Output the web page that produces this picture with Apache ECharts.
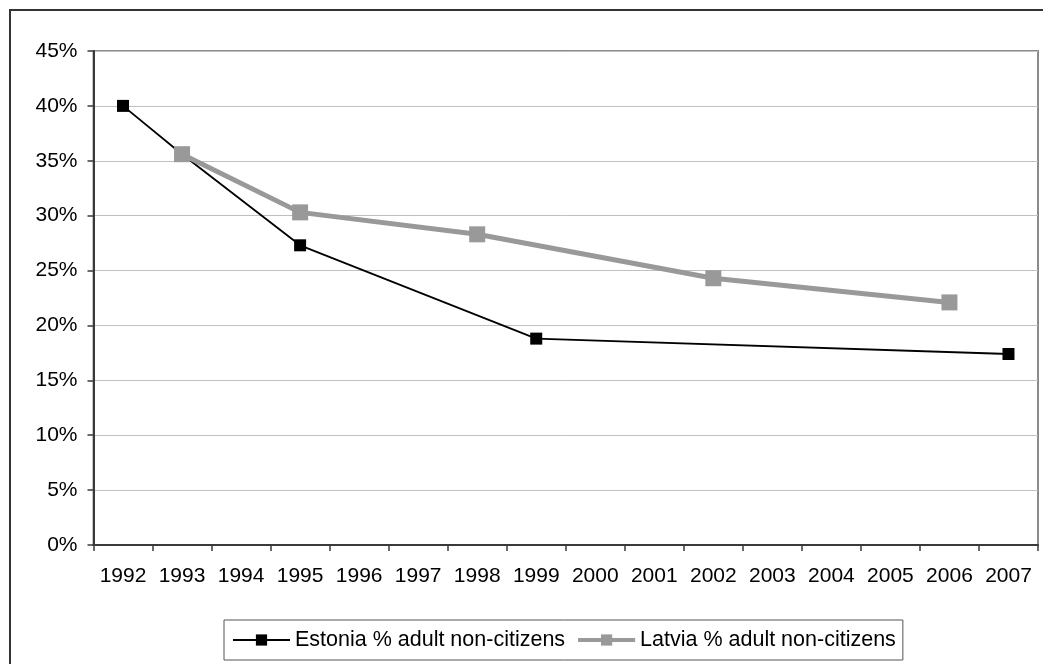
<!DOCTYPE html>
<html>
<head>
<meta charset="utf-8">
<script src="https://cdn.jsdelivr.net/npm/echarts@6/dist/echarts.min.js"></script>
<style>
  html, body { margin: 0; padding: 0; background: #fff; }
  #chart { width: 1043px; height: 664px; }
</style>
</head>
<body>
<div id="chart"></div>
<script>
// Share of adult residents without citizenship, Estonia vs Latvia
const years = ['1992','1993','1994','1995','1996','1997','1998','1999','2000',
               '2001','2002','2003','2004','2005','2006','2007'];
const estonia = [40.0, 35.6, null, 27.3, null, null, null, 18.8, null,
                 null, null, null, null, null, null, 17.4];
const latvia  = [null, 35.6, null, 30.3, null, null, 28.3, null, null,
                 null, 24.3, null, null, null, 22.1, null];
const yTicks = { min: 0, max: 45, step: 5 };

const FONT = 'Liberation Sans, Arial, sans-serif';
const chart = echarts.init(document.getElementById('chart'), null, { renderer: 'canvas' });

chart.setOption({
  animation: false,
  backgroundColor: '#ffffff',
  graphic: [{
    type: 'rect',
    shape: { x: 10, y: 10, width: 1100, height: 700 },
    style: { fill: 'none', stroke: '#333333', lineWidth: 2 },
    z: -1
  }],
  grid: {
    left: 93.5, top: 51, right: 5, bottom: 119,
    show: true, borderColor: '#8a8a8a', borderWidth: 2,
    containLabel: false
  },
  legend: {
    left: 224, top: 620,
    orient: 'horizontal',
    borderColor: '#555555', borderWidth: 1,
    padding: [9, 7, 9, 8],
    itemGap: 11,
    itemWidth: 57, itemHeight: 14,
    textStyle: { fontFamily: FONT, fontSize: 21.5, color: '#000' },
    data: [
      { name: 'Estonia % adult non-citizens', lineStyle: { width: 2 } },
      { name: 'Latvia % adult non-citizens', lineStyle: { width: 4 } }
    ]
  },
  xAxis: {
    type: 'category',
    data: years,
    boundaryGap: true,
    axisLine: { lineStyle: { color: '#3a3a3a', width: 2 } },
    axisTick: { show: true, alignWithLabel: false, length: 6, lineStyle: { color: '#3a3a3a', width: 1.5 } },
    axisLabel: { interval: 0, margin: 21, fontFamily: FONT, fontSize: 21, color: '#000' },
    splitLine: { show: false }
  },
  yAxis: {
    type: 'value',
    min: yTicks.min, max: yTicks.max, interval: yTicks.step,
    axisLine: { show: true, lineStyle: { color: '#3a3a3a', width: 2 } },
    axisTick: { show: true, length: 6, lineStyle: { color: '#3a3a3a', width: 1.5 } },
    axisLabel: { formatter: '{value}%', margin: 16, fontFamily: FONT, fontSize: 21, color: '#000' },
    splitLine: { lineStyle: { color: '#c0c0c0', width: 1 } }
  },
  series: [
    {
      name: 'Estonia % adult non-citizens',
      type: 'line',
      data: estonia,
      connectNulls: true,
      symbol: 'rect', symbolSize: 12,
      lineStyle: { color: '#000000', width: 1.8 },
      itemStyle: { color: '#000000' },
      z: 2
    },
    {
      name: 'Latvia % adult non-citizens',
      type: 'line',
      data: latvia,
      connectNulls: true,
      symbol: 'rect', symbolSize: 16,
      lineStyle: { color: '#999999', width: 5 },
      itemStyle: { color: '#999999' },
      z: 3
    }
  ]
});
</script>
</body>
</html>
